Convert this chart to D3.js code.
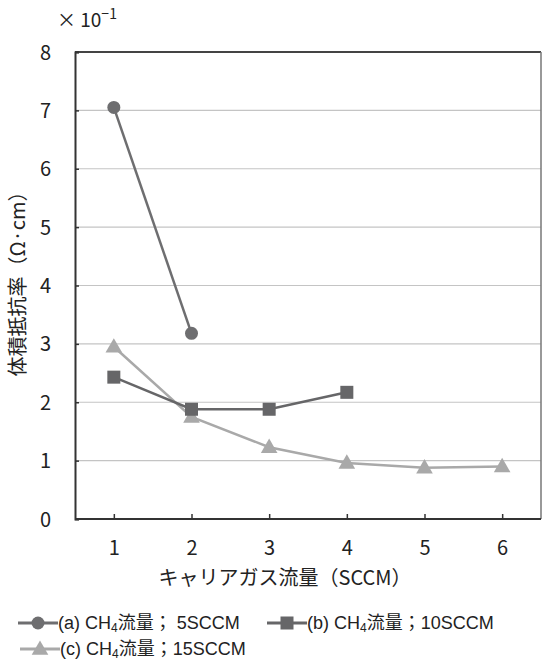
<!DOCTYPE html>
<html lang="ja">
<head>
<meta charset="utf-8">
<script src="https://d3js.org/d3.v7.min.js"></script>
<style>
  body { margin: 0; background: #fff; }
  text { font-family: "Noto Sans CJK JP", "Noto Sans", sans-serif; fill: #222; }
</style>
</head>
<body>
<script>
// data
const seriesNames = ["(a) CH4流量； 5SCCM", "(b) CH4流量；10SCCM", "(c) CH4流量；15SCCM"];
const xA = [1, 2];
const yA = [7.05, 3.18];
const xB = [1, 2, 3, 4];
const yB = [2.43, 1.88, 1.88, 2.17];
const xC = [1, 2, 3, 4, 5, 6];
const yC = [2.95, 1.75, 1.23, 0.96, 0.88, 0.90];
const xTicks = [1, 2, 3, 4, 5, 6];
const yTicks = [0, 1, 2, 3, 4, 5, 6, 7, 8];

const w = 542, h = 661;
const mLeft = 75, mRight = 541, mTop = 52, mBottom = 519;

const svg = d3.select("body").append("svg").attr("width", w).attr("height", h);

const x = d3.scaleLinear().domain([0.5, 6.5]).range([mLeft, mRight]);
const y = d3.scaleLinear().domain([0, 8]).range([mBottom, mTop]);

// gridlines
svg.append("g").selectAll("line").data(yTicks.slice(1, -1)).join("line")
  .attr("x1", mLeft).attr("x2", mRight)
  .attr("y1", d => y(d)).attr("y2", d => y(d))
  .attr("stroke", "#c4c4c4").attr("stroke-width", 1.2);

// frame
svg.append("line").attr("x1", mLeft).attr("x2", mRight).attr("y1", mTop).attr("y2", mTop)
  .attr("stroke", "#444").attr("stroke-width", 2);
svg.append("line").attr("x1", mRight).attr("x2", mRight).attr("y1", mTop).attr("y2", mBottom)
  .attr("stroke", "#777").attr("stroke-width", 1.5);

// axes
const yAxis = svg.append("g").attr("transform", `translate(${mLeft},0)`)
  .call(d3.axisLeft(y).tickValues(yTicks).tickSize(-4).tickFormat(d3.format("d")));
const xAxis = svg.append("g").attr("transform", `translate(0,${mBottom})`)
  .call(d3.axisBottom(x).tickValues(xTicks).tickSize(-5).tickFormat(d3.format("d")));
[yAxis, xAxis].forEach(g => {
  g.select(".domain").attr("stroke", "#333").attr("stroke-width", 2);
  g.selectAll(".tick line").attr("stroke", "#333").attr("stroke-width", 1.5);
  g.selectAll(".tick text").style("font-size", "20px").attr("fill", "#222")
    .style("font-family", "'Noto Sans CJK JP', sans-serif");
});
xAxis.select(".domain").attr("d", `M${mLeft},0H${mRight}`);
yAxis.selectAll(".tick text").attr("x", -24).attr("dy", "0.35em");
xAxis.selectAll(".tick text").attr("y", 20).attr("dy", "0.8em");

// exponent label
const ex = svg.append("text").attr("x", 57).attr("y", 27).style("font-size", "19px");
ex.append("tspan").text("× 10");
ex.append("tspan").attr("dy", -8).style("font-size", "14px").text("−1");

// axis titles
svg.append("text").attr("transform", "translate(25,279) rotate(-90)")
  .attr("text-anchor", "middle").style("font-size", "20px")
  .text("体積抵抗率（Ω·cm）");
svg.append("text").attr("x", 285).attr("y", 585)
  .attr("text-anchor", "middle").style("font-size", "20px")
  .text("キャリアガス流量（SCCM）");

const line = d3.line().x(d => x(d[0])).y(d => y(d[1]));
const colA = "#6e6e70", colB = "#666668", colC = "#a9a9a9";

function drawSeries(xs, ys, col, shape) {
  const pts = xs.map((d, i) => [d, ys[i]]);
  svg.append("path").datum(pts).attr("d", line)
    .attr("fill", "none").attr("stroke", col).attr("stroke-width", 2.5);
  pts.forEach(p => drawMarker(x(p[0]), y(p[1]), col, shape));
}
function drawMarker(cx, cy, col, shape) {
  if (shape === "circle") {
    svg.append("circle").attr("cx", cx).attr("cy", cy).attr("r", 6.5).attr("fill", col);
  } else if (shape === "square") {
    svg.append("rect").attr("x", cx - 6.5).attr("y", cy - 6.5)
      .attr("width", 13).attr("height", 13).attr("fill", col);
  } else {
    svg.append("path").attr("d", d3.symbol(d3.symbolTriangle, 120)())
      .attr("transform", `translate(${cx},${cy + 1})`).attr("fill", col);
  }
}
drawSeries(xC, yC, colC, "triangle");
drawSeries(xB, yB, colB, "square");
drawSeries(xA, yA, colA, "circle");

// legend
const legendItems = [
  { name: seriesNames[0], col: colA, shape: "circle", x: 18, y: 623 },
  { name: seriesNames[1], col: colB, shape: "square", x: 267, y: 623 },
  { name: seriesNames[2], col: colC, shape: "triangle", x: 20, y: 649 }
];
legendItems.forEach(it => {
  svg.append("line").attr("x1", it.x).attr("x2", it.x + 40)
    .attr("y1", it.y).attr("y2", it.y)
    .attr("stroke", it.col).attr("stroke-width", 3);
  drawMarker(it.x + 20, it.y, it.col, it.shape);
  const t = svg.append("text").attr("x", it.x + 40).attr("y", it.y + 6)
    .style("font-size", "18px")
    .style("font-family", "'Liberation Sans', 'Noto Sans CJK JP', sans-serif");
  const m = it.name.match(/^(\(.\)) CH4(流量；)(.*)$/);
  t.append("tspan").text(m[1] + " CH");
  t.append("tspan").attr("dy", 3).style("font-size", "12px").text("4");
  t.append("tspan").attr("dy", -3).style("font-family", "'Noto Sans CJK JP'").text(m[2]);
  t.append("tspan").text(m[3]);
});
</script>
</body>
</html>
